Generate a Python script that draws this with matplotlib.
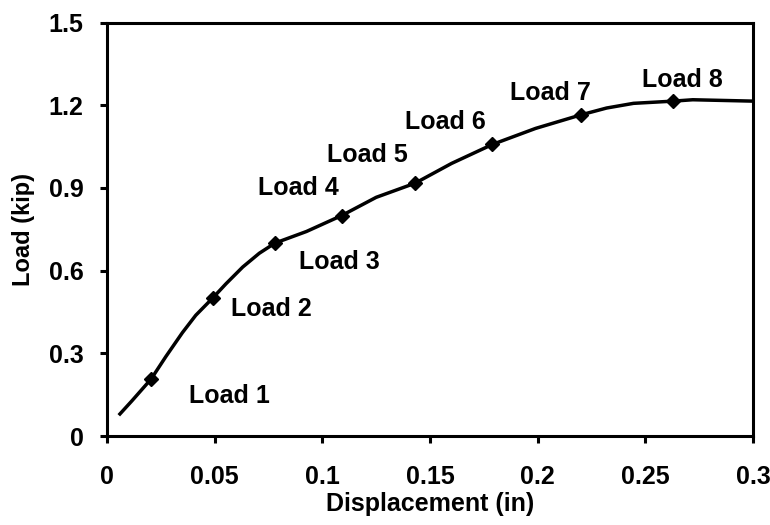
import matplotlib as mpl
import matplotlib.pyplot as plt

mpl.rcParams['font.family'] = ['Liberation Sans', 'DejaVu Sans']
mpl.rcParams['font.weight'] = 'bold'

# load-displacement curve (in, kip)
curve_x = [0.006, 0.0116, 0.0205, 0.0273, 0.035, 0.0412, 0.049, 0.0552,
           0.063, 0.0707, 0.078, 0.0926, 0.109, 0.125, 0.143, 0.160, 0.179,
           0.199, 0.220, 0.232, 0.2445, 0.263, 0.272, 0.300]
curve_y = [0.08, 0.128, 0.207, 0.288, 0.375, 0.438, 0.50, 0.552,
           0.613, 0.663, 0.70, 0.742, 0.80, 0.866, 0.917, 0.989, 1.058,
           1.116, 1.165, 1.190, 1.207, 1.215, 1.220, 1.215]

# load steps
load_x = [0.0205, 0.049, 0.078, 0.109, 0.143, 0.179, 0.220, 0.263]
load_y = [0.207, 0.50, 0.70, 0.80, 0.917, 1.058, 1.165, 1.215]
load_names = ['Load 1', 'Load 2', 'Load 3', 'Load 4',
              'Load 5', 'Load 6', 'Load 7', 'Load 8']
label_x = [0.0567, 0.0763, 0.108, 0.089, 0.121, 0.157, 0.206, 0.267]
label_y = [0.145, 0.46, 0.63, 0.90, 1.02, 1.14, 1.246, 1.293]

x_ticks = [0, 0.05, 0.1, 0.15, 0.2, 0.25, 0.3]
x_ticklabels = ['0', '0.05', '0.1', '0.15', '0.2', '0.25', '0.3']
y_ticks = [0, 0.3, 0.6, 0.9, 1.2, 1.5]
y_ticklabels = ['0', '0.3', '0.6', '0.9', '1.2', '1.5']

fig = plt.figure(figsize=(7.7, 5.25), dpi=100, facecolor='w')
ax = fig.add_axes([0.139, 0.1695, 0.839, 0.7875])

ax.plot(curve_x, curve_y, 'k-', linewidth=2.5, solid_joinstyle='round')
ax.plot(load_x, load_y, 'kD', markersize=7.5)
for n, lx, ly in zip(load_names, label_x, label_y):
    ax.text(lx, ly, n, fontsize=18, fontweight='bold', ha='center', va='center')

ax.set_xlim(0, 0.3)
ax.set_ylim(0, 1.5)
ax.set_xticks(x_ticks)
ax.set_xticklabels(x_ticklabels)
ax.set_yticks(y_ticks)
ax.set_yticklabels(y_ticklabels)
for s in ax.spines.values():
    s.set_linewidth(2.2)
ax.tick_params(axis='both', direction='out', length=5, width=2.2,
               labelsize=18)
ax.tick_params(axis='x', pad=16)
ax.tick_params(axis='y', pad=12)
ax.set_xlabel('Displacement (in)', fontsize=18, fontweight='bold', labelpad=2)
ax.set_ylabel('Load (kip)', fontsize=17, fontweight='bold', labelpad=10)

fig.savefig('out.png', dpi=100, facecolor='w')
